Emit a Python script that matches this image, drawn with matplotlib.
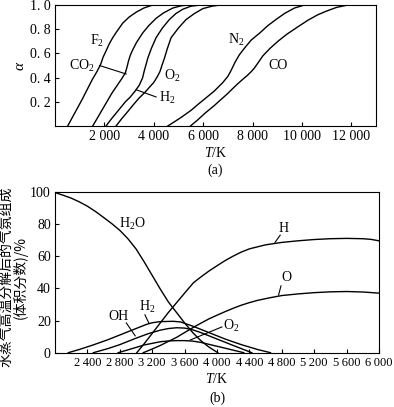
import numpy as np
import matplotlib
matplotlib.use('Agg')
import matplotlib.pyplot as plt

plt.rcParams['font.family'] = ['Liberation Serif', 'DejaVu Sans']
plt.rcParams['mathtext.fontset'] = 'custom'
plt.rcParams['mathtext.rm'] = 'Liberation Serif'
plt.rcParams['mathtext.it'] = 'Liberation Serif:italic'

# (a) degree of dissociation vs temperature
f2_T = [514, 700, 900, 1100, 1300, 1500, 1700, 1850, 1950, 2067, 2200, 2338, 2500, 2743, 3000, 3283, 3600, 3960]
f2_a = [0, 0.07, 0.145, 0.22, 0.30, 0.38, 0.45, 0.51, 0.57, 0.62, 0.68, 0.73, 0.78, 0.85, 0.90, 0.94, 0.975, 1.0]
co2_T = [1527, 1700, 1900, 2100, 2300, 2500, 2700, 2851, 2920, 2980, 3060, 3149, 3300, 3555, 3800, 4094, 4400, 4771, 5100, 5379]
co2_a = [0, 0.06, 0.13, 0.20, 0.27, 0.33, 0.39, 0.44, 0.49, 0.54, 0.59, 0.63, 0.69, 0.77, 0.83, 0.89, 0.935, 0.975, 0.993, 1.0]
h2_T = [2067, 2250, 2450, 2650, 2850, 3050, 3250, 3420, 3550, 3620, 3690, 3757, 3900, 4094, 4350, 4633, 4900, 5176, 5500, 5900]
h2_a = [0, 0.05, 0.10, 0.15, 0.20, 0.24, 0.29, 0.34, 0.40, 0.46, 0.51, 0.56, 0.64, 0.73, 0.81, 0.88, 0.93, 0.965, 0.99, 1.0]
o2_T = [2473, 2700, 2950, 3149, 3400, 3650, 3823, 4000, 4150, 4250, 4330, 4431, 4550, 4702, 5000, 5310, 5650, 5987, 6350, 6700]
o2_a = [0, 0.06, 0.12, 0.17, 0.23, 0.28, 0.32, 0.36, 0.41, 0.45, 0.50, 0.56, 0.64, 0.73, 0.81, 0.88, 0.93, 0.97, 0.99, 1.0]
n2_T = [4567, 4800, 5100, 5513, 5800, 6100, 6457, 6800, 7000, 7134, 7300, 7471, 7700, 7945, 8300, 8622, 8950, 9295, 9700, 10105]
n2_a = [0, 0.03, 0.07, 0.13, 0.18, 0.23, 0.29, 0.36, 0.41, 0.46, 0.53, 0.59, 0.65, 0.71, 0.77, 0.83, 0.88, 0.93, 0.975, 1.0]
co_T = [5485, 5750, 6100, 6457, 6700, 6950, 7200, 7406, 7600, 7800, 7950, 8079, 8250, 8419, 8700, 9027, 9400, 9838, 10250, 10649, 11000, 11400, 11862]
co_a = [0, 0.045, 0.11, 0.17, 0.215, 0.26, 0.31, 0.35, 0.385, 0.42, 0.45, 0.48, 0.53, 0.58, 0.64, 0.70, 0.76, 0.82, 0.875, 0.92, 0.95, 0.98, 1.0]

top_xticks = [2000, 4000, 6000, 8000, 10000, 12000]
top_xlabels = ['2 000', '4 000', '6 000', '8 000', '10 000', '12 000']
top_yticks = [0.2, 0.4, 0.6, 0.8, 1.0]
top_ylabels = ['0. 2', '0. 4', '0. 6', '0. 8', '1. 0']

# (b) composition of dissociated water vapour, vol %
h2o_T = [2000, 2100, 2200, 2300, 2400, 2500, 2600, 2700, 2800, 2900, 3000, 3100, 3200, 3300, 3400, 3500, 3600, 3700, 3800, 3900, 4010]
h2o_v = [99.5, 97.8, 96, 93.7, 91, 87.7, 84, 80.2, 76, 70.8, 64.5, 56.5, 48, 39.5, 31.5, 25, 18.5, 12.5, 7.5, 3.5, 0]
h_T = [3010, 3100, 3200, 3300, 3400, 3500, 3600, 3710, 3800, 3900, 4000, 4100, 4200, 4300, 4400, 4600, 4800, 5000, 5200, 5400, 5600, 5800, 5900, 6000]
h_v = [0, 5.5, 12, 18.5, 25, 31, 37, 43.5, 47, 50.7, 54, 57.2, 60, 62.5, 64.5, 67, 68.5, 69.5, 70.3, 70.8, 71, 70.8, 70.4, 69.5]
o_T = [3090, 3200, 3300, 3400, 3500, 3600, 3700, 3800, 3900, 4000, 4100, 4200, 4300, 4400, 4500, 4650, 4800, 5000, 5200, 5400, 5600, 5800, 6000]
o_v = [0, 2.3, 4.5, 7, 9.5, 12.5, 15.5, 18.3, 21, 23.3, 25.5, 27.6, 29.5, 31.1, 32.5, 34.1, 35.5, 36.5, 37.3, 37.8, 38, 37.7, 37]
h2b_T = [2164, 2300, 2470, 2650, 2800, 2950, 3130, 3200, 3300, 3460, 3550, 3700, 3900, 4100, 4300, 4500, 4660]
h2b_v = [0, 2, 4.8, 8, 11, 14, 17.6, 18.6, 19.3, 19.5, 19.1, 16.5, 12.5, 8.5, 5, 2, 0]
oh_T = [2473, 2650, 2800, 3000, 3150, 3300, 3400, 3500, 3600, 3700, 3800, 4000, 4200, 4430]
oh_v = [0, 2.5, 5, 9, 11.8, 14, 15, 15.5, 15.3, 14.2, 12.5, 8.5, 4.5, 0]
o2b_T = [2780, 2950, 3100, 3300, 3400, 3500, 3600, 3700, 3800, 3900, 4100, 4330]
o2b_v = [0, 2.5, 4.8, 6.8, 7.3, 7.5, 7.5, 7.2, 6.4, 5.2, 2.8, 0]

bot_xticks = [2400, 2800, 3200, 3600, 4000, 4400, 4800, 5200, 5600, 6000]
bot_xlabels = ['2\u2009400', '2\u2009800', '3\u2009200', '3\u2009600', '4\u2009000',
               '4\u2009400', '4\u2009800', '5\u2009200', '5\u2009600', '6\u2009000']
bot_yticks = [0, 20, 40, 60, 80, 100]

fig = plt.figure(figsize=(3.94, 4.07), dpi=100)
ax1 = fig.add_axes([55/394, 1 - 126/407, 321/394, 121/407])
ax2 = fig.add_axes([55/394, 1 - 352.7/407, 324/394, 161/407])

lw = 1.0
for T, a in [(f2_T, f2_a), (co2_T, co2_a), (h2_T, h2_a), (o2_T, o2_a), (n2_T, n2_a), (co_T, co_a)]:
    ax1.plot(T, a, color='black', lw=lw)
ax1.set_xlim(0, 13000)
ax1.set_ylim(0, 1.0)
ax1.set_xticks(top_xticks, top_xlabels)
ax1.set_yticks(top_yticks, top_ylabels)
ax1.tick_params(direction='in', length=3, labelsize=10, pad=3)
ax1.set_xlabel('$T$/K', fontsize=10, labelpad=2)
ax1.set_ylabel(r'$\alpha$', fontsize=11, labelpad=2)
fs = 10
ax1.text(1700, 0.70, r'F$_\mathrm{2}$', fontsize=fs, ha='center', va='center')
ax1.text(1100, 0.50, r'CO$_\mathrm{2}$', fontsize=fs, ha='center', va='center')
ax1.plot([1800, 2880], [0.50, 0.43], color='black', lw=0.8)
ax1.text(4750, 0.41, r'O$_\mathrm{2}$', fontsize=fs, ha='center', va='center')
ax1.text(4550, 0.23, r'H$_\mathrm{2}$', fontsize=fs, ha='center', va='center')
ax1.plot([3283, 4094], [0.30, 0.24], color='black', lw=0.8)
ax1.text(7340, 0.71, r'N$_\mathrm{2}$', fontsize=fs, ha='center', va='center')
ax1.text(9030, 0.50, 'CO', fontsize=fs, ha='center', va='center')
fig.text(0.5 * (55 + 376) / 394, 1 - 170/407, '(a)', fontsize=10, ha='center', va='center')

for T, v in [(h2o_T, h2o_v), (h_T, h_v), (o_T, o_v), (h2b_T, h2b_v), (oh_T, oh_v), (o2b_T, o2b_v)]:
    ax2.plot(T, v, color='black', lw=lw)
ax2.set_xlim(2000, 6000)
ax2.set_ylim(0, 100)
ax2.set_xticks(bot_xticks, bot_xlabels)
ax2.set_yticks(bot_yticks)
ax2.tick_params(direction='in', length=3, labelsize=10, pad=3)
ax2.tick_params(axis='x', labelsize=9)
ax2.set_xlabel('$T$/K', fontsize=10, labelpad=2)
ax2.set_ylabel('水蒸气高温分解后的气氛组成\n(体积分数)/%', fontsize=10, linespacing=1.0,
               family=['Noto Sans CJK SC', 'DejaVu Sans'])
ax2.yaxis.set_label_coords(-0.083, 0.47)
ax2.text(2950, 80, r'H$_\mathrm{2}$O', fontsize=fs, ha='center', va='center')
ax2.text(4820, 77, 'H', fontsize=fs, ha='center', va='center')
ax2.plot([4780, 4716], [73, 68.5], color='black', lw=0.8)
ax2.text(4860, 47, 'O', fontsize=fs, ha='center', va='center')
ax2.plot([4790, 4760], [41.5, 35.8], color='black', lw=0.8)
ax2.text(2780, 22.4, 'OH', fontsize=fs, ha='center', va='center')
ax2.plot([2880, 2990], [18.5, 10.5], color='black', lw=0.8)
ax2.text(3140, 28.6, r'H$_\mathrm{2}$', fontsize=fs, ha='center', va='center')
ax2.plot([3110, 3160], [23.5, 18.3], color='black', lw=0.8)
ax2.text(4180, 16.8, r'O$_\mathrm{2}$', fontsize=fs, ha='center', va='center')
ax2.plot([4060, 3670], [16.0, 7.9], color='black', lw=0.8)
fig.text(0.5 * (55 + 379) / 394, 1 - 398/407, '(b)', fontsize=10, ha='center', va='center')

fig.savefig('out.png', dpi=100)
